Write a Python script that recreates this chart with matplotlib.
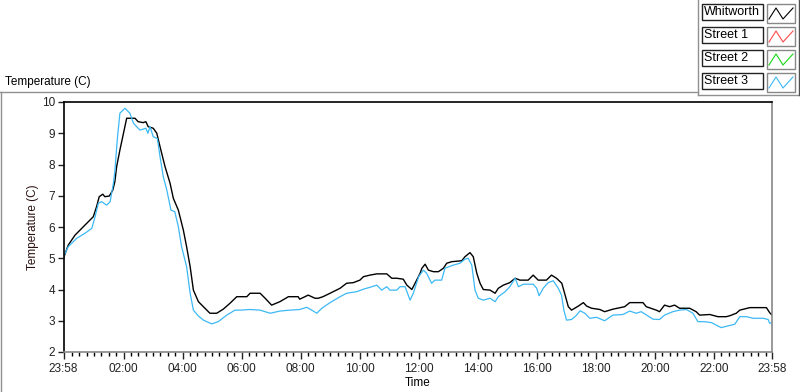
import numpy as np
import matplotlib
matplotlib.use("Agg")
import matplotlib.pyplot as plt
from matplotlib.lines import Line2D
from matplotlib.patches import Rectangle

plt.rcParams['font.family'] = ['Liberation Sans', 'DejaVu Sans']

# hours after the first sample (23:58)
t_whit = [0, 0.16, 0.39, 0.62, 0.84, 1.01, 1.12, 1.21, 1.33, 1.40, 1.55, 1.67, 1.74, 1.80, 1.91,
          2.03, 2.14, 2.42, 2.53, 2.70, 2.79, 2.87, 3.04, 3.16, 3.27, 3.44, 3.61, 3.72, 3.89,
          4.06, 4.17, 4.29, 4.40, 4.57, 4.74, 4.96, 5.19, 5.41, 5.64, 5.87, 6.21, 6.32, 6.66,
          6.83, 7.05, 7.33, 7.62, 7.95, 8.0, 8.29, 8.52, 8.63, 8.79, 9.03, 9.37, 9.59, 9.82,
          10.04, 10.16, 10.38, 10.61, 10.95, 11.12, 11.29, 11.51, 11.63, 11.80, 11.91, 12.08,
          12.14, 12.25, 12.36, 12.53, 12.70, 12.87, 12.98, 13.15, 13.49, 13.60, 13.77, 13.88,
          14.0, 14.11, 14.22, 14.45, 14.62, 14.73, 14.90, 15.12, 15.30, 15.46, 15.74, 15.91,
          16.08, 16.36, 16.53, 16.70, 16.88, 16.99, 17.10, 17.21, 17.44, 17.61, 17.72, 17.89,
          18.17, 18.33, 18.61, 19.01, 19.18, 19.63, 19.74, 20.08, 20.19, 20.36, 20.53, 20.70,
          20.87, 21.21, 21.43, 21.55, 21.89, 22.17, 22.45, 22.57, 22.79, 22.91, 23.25, 23.81,
          23.92, 24.0]
whitworth = [5.0, 5.42, 5.74, 5.96, 6.17, 6.33, 6.65, 6.97, 7.05, 6.97, 6.99, 7.18, 7.45, 7.93, 8.46,
             9.0, 9.48, 9.48, 9.37, 9.34, 9.37, 9.21, 9.16, 9.0, 8.57, 7.93, 7.40, 6.92, 6.54,
             5.9, 5.37, 4.73, 3.98, 3.61, 3.45, 3.24, 3.24, 3.37, 3.56, 3.77, 3.77, 3.88, 3.88,
             3.72, 3.50, 3.61, 3.77, 3.77, 3.69, 3.82, 3.72, 3.72, 3.77, 3.88, 4.04, 4.20, 4.22,
             4.30, 4.41, 4.46, 4.50, 4.50, 4.36, 4.36, 4.33, 4.14, 4.0, 4.20, 4.52,
             4.68, 4.81, 4.62, 4.57, 4.57, 4.68, 4.84, 4.89, 4.92, 5.05, 5.18, 5.05,
             4.52, 4.20, 4.0, 3.98, 3.88, 4.04, 4.14, 4.22, 4.36, 4.30, 4.30, 4.46,
             4.30, 4.30, 4.46, 4.36, 4.20, 3.82, 3.45, 3.34, 3.47, 3.58, 3.47, 3.40,
             3.36, 3.29, 3.37, 3.45, 3.58, 3.58, 3.45, 3.34, 3.29, 3.50, 3.45, 3.50,
             3.40, 3.40, 3.29, 3.18, 3.20, 3.13, 3.13, 3.16, 3.24, 3.34, 3.42, 3.42,
             3.26, 3.18]

t_st3 = [0, 0.16, 0.45, 0.73, 0.96, 1.07, 1.18, 1.29, 1.46, 1.58, 1.69, 1.74, 1.82, 1.91, 2.08,
         2.25, 2.37, 2.59, 2.79, 2.86, 2.93, 3.04, 3.18, 3.27, 3.38, 3.50, 3.64, 3.77, 3.89,
         4.0, 4.17, 4.29, 4.40, 4.57, 4.74, 5.02, 5.24, 5.53, 5.81, 6.0, 6.32, 6.66, 7.0,
         7.33, 7.67, 8.0, 8.24, 8.41, 8.58, 8.75, 9.03, 9.37, 9.59, 9.93, 10.16, 10.38, 10.61,
         10.78, 10.95, 11.06, 11.29, 11.40, 11.57, 11.74, 11.85, 12.03, 12.19, 12.30, 12.47,
         12.58, 12.70, 12.81, 12.92, 13.2, 13.43, 13.6, 13.71, 13.83, 13.94, 14.05, 14.22,
         14.45, 14.62, 14.73, 14.96, 15.12, 15.30, 15.41, 15.58, 15.91, 16.03, 16.11, 16.25,
         16.42, 16.59, 16.76, 16.87, 16.95, 17.04, 17.21, 17.35, 17.50, 17.66, 17.83, 18.06,
         18.33, 18.61, 18.95, 19.18, 19.40, 19.57, 19.97, 20.19, 20.36, 20.64, 20.87, 21.10,
         21.32, 21.49, 21.72, 21.95, 22.11, 22.28, 22.57, 22.74, 22.91, 23.14, 23.36, 23.70,
         23.87, 23.92, 24.0]
street3 = [5.05, 5.37, 5.64, 5.80, 5.96, 6.33, 6.76, 6.81, 6.70, 6.81, 7.4, 7.78, 8.78, 9.64, 9.80,
           9.64, 9.32, 9.10, 9.16, 9.0, 9.21, 8.89, 8.83, 8.25, 7.61, 7.18, 6.54, 6.49, 6.01,
           5.37, 4.73, 3.88, 3.34, 3.15, 3.02, 2.90, 2.97, 3.18, 3.34, 3.34, 3.36, 3.34, 3.24,
           3.31, 3.34, 3.36, 3.43, 3.34, 3.24, 3.40, 3.58, 3.77, 3.88, 3.93, 4.01, 4.07, 4.14,
           3.98, 4.09, 3.98, 3.98, 4.09, 4.09, 3.66, 3.88, 4.41, 4.62, 4.52, 4.20,
           4.30, 4.30, 4.30, 4.68, 4.78, 4.84, 4.97, 5.0, 4.78, 3.98, 3.72, 3.66,
           3.72, 3.61, 3.77, 3.93, 4.09, 4.36, 4.09, 4.17, 4.17, 4.04, 3.80, 4.04,
           4.22, 4.28, 4.04, 3.82, 3.34, 3.02, 3.04, 3.15, 3.32, 3.24, 3.08, 3.11,
           3.0, 3.18, 3.20, 3.31, 3.24, 3.29, 3.05, 3.04, 3.18, 3.29, 3.34, 3.36,
           3.24, 2.97, 2.97, 2.94, 2.86, 2.78, 2.85, 2.89, 3.13, 3.13, 3.08, 3.08,
           3.04, 2.92, 2.94]

x_major = [0, 2 + 2/60, 4 + 2/60, 6 + 2/60, 8 + 2/60, 10 + 2/60, 12 + 2/60,
           14 + 2/60, 16 + 2/60, 18 + 2/60, 20 + 2/60, 22 + 2/60, 24]
x_labels = ['23:58', '02:00', '04:00', '06:00', '08:00', '10:00', '12:00',
            '14:00', '16:00', '18:00', '20:00', '22:00', '23:58']
legend_names = ['Whitworth', 'Street 1', 'Street 2', 'Street 3']
legend_colors = ['black', '#ff4a4a', '#16d916', '#3cb9f5']

fig = plt.figure(figsize=(8, 3.92), dpi=100)
ax = fig.add_axes([63.5/800, 1 - 352/392, (772 - 63.5)/800, 250/392])

ax.plot(t_whit, whitworth, color='black', lw=1.0)
ax.plot(t_st3, street3, color='#3cb9f5', lw=0.9)

ax.set_xlim(0, 24)
ax.set_ylim(2, 10)
ax.set_yticks(range(2, 11))
ax.set_xticks(x_major)
ax.set_xticklabels(x_labels)
ax.set_xticks(np.arange(2/60 + 0.25, 24, 0.25), minor=True)
ax.tick_params(axis='both', labelsize=8.5, colors='#222222', width=1)
ax.tick_params(axis='x', which='major', length=5, pad=3)
ax.tick_params(axis='x', which='minor', length=3, width=1)
ax.tick_params(axis='y', length=4, pad=2)
for s in ['top', 'left']:
    ax.spines[s].set_color('black')
    ax.spines[s].set_linewidth(1.2)
for s in ['bottom', 'right']:
    ax.spines[s].set_color('#888888')
    ax.spines[s].set_linewidth(1.2)
ax.set_xlabel('Time', fontsize=8.5, labelpad=1)
ax.set_ylabel('Temperature (C)', fontsize=8.5, color='#2a1010', labelpad=2)

W, H = 800, 392
def fx(x): return x / W
def fy(y): return 1 - y / H

fig.text(fx(5), fy(82), 'Temperature (C)', fontsize=8.5, va='center', ha='left')

# outer panel frame
for (x0, y0, x1, y1, c) in [(0, 92, 698, 92, '#909090'), (1, 92, 1, 392, '#909090'),
                            (698, 0, 698, 95, '#909090'), (698, 95, 799, 95, '#909090'),
                            (799, 0, 799, 95, '#505050')]:
    fig.add_artist(Line2D([fx(x0), fx(x1)], [fy(y0), fy(y1)], color=c, lw=1.0))

# legend boxes
for i, (name, col) in enumerate(zip(legend_names, legend_colors)):
    top = 4 + 23 * i
    fig.add_artist(Rectangle((fx(702), fy(top + 16)), 61/W, 16/H, facecolor='white',
                             edgecolor='#222222', lw=1.0))
    fig.text(fx(704), fy(top + 8), name, fontsize=9, va='center', ha='left')
    fig.add_artist(Rectangle((fx(767), fy(top + 19)), 28/W, 19/H, facecolor='white',
                             edgecolor='#888888', lw=1.0))
    zx = [769, 776, 783, 793]
    zy = [top + 15, top + 4, top + 15, top + 4]
    fig.add_artist(Line2D([fx(v) for v in zx], [fy(v) for v in zy], color=col, lw=0.8))

fig.savefig('out.png', dpi=100)
